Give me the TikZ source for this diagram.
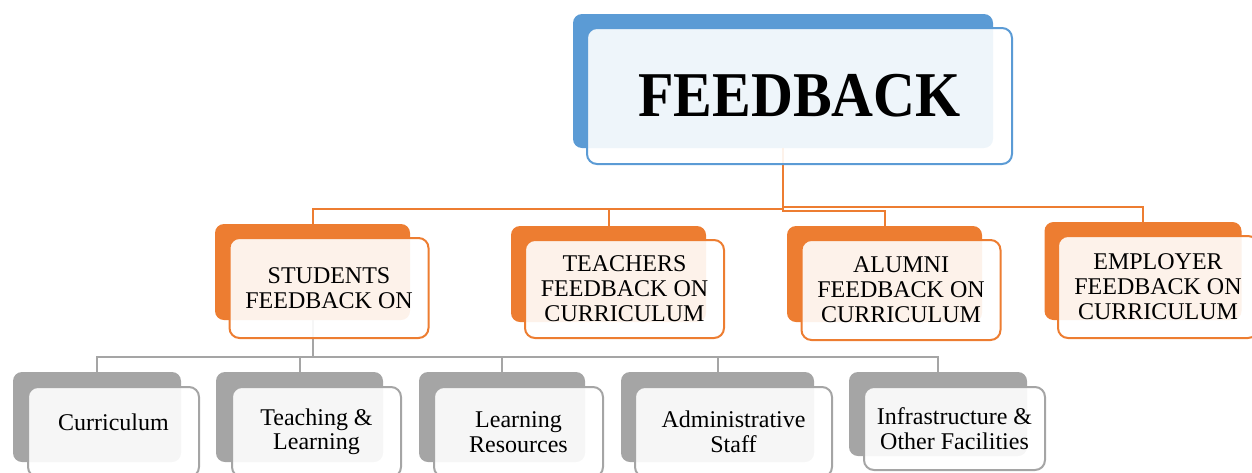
\documentclass[tikz,border=0pt]{standalone}
\usepackage{graphicx}
\usepackage{fontspec}
\setmainfont{Liberation Serif}
\definecolor{cblue}{HTML}{5B9BD5}
\definecolor{corange}{HTML}{ED7D31}
\definecolor{cgray}{HTML}{A5A5A5}
\tikzset{
  backbox/.style={rounded corners=9pt, draw=none, fill=#1, inner sep=0pt},
  frontbox/.style={rounded corners=10pt, draw=#1, line width=2pt, fill=white,
    fill opacity=0.9, text opacity=1, inner sep=0pt, align=center},
  ocon/.style={draw=corange, line width=2pt},
  gcon/.style={draw=cgray, line width=2pt},
  lvtwo/.style={font=\fontsize{24}{25}\selectfont},
  lvthree/.style={font=\fontsize{24}{24.5}\selectfont},
}
\begin{document}
\begin{tikzpicture}[x=1pt,y=-1pt]
\useasboundingbox (0,0) rectangle (1252,472);
% back boxes
\node[backbox=cblue, minimum width=420pt, minimum height=134pt] (fbb) at (783,81) {};
\node[backbox=corange, minimum width=195pt, minimum height=96pt] (sb) at (312.5,272) {};
\node[backbox=corange, minimum width=195pt, minimum height=96pt] (tb) at (608.5,274) {};
\node[backbox=corange, minimum width=195pt, minimum height=96pt] (ab) at (884.5,274) {};
\node[backbox=corange, minimum width=197pt, minimum height=98pt] (eb) at (1143,271) {};
\node[backbox=cgray, minimum width=168pt, minimum height=90pt] (cb) at (97,417) {};
\node[backbox=cgray, minimum width=167pt, minimum height=90pt] (tlb) at (299.5,417) {};
\node[backbox=cgray, minimum width=166pt, minimum height=90pt] (lrb) at (502,417) {};
\node[backbox=cgray, minimum width=193pt, minimum height=90pt] (asb) at (717.5,417) {};
\node[backbox=cgray, minimum width=178pt, minimum height=84pt] (ifb) at (938,414) {};
% connectors
\draw[ocon] (fbb.south) -- ++(0,61) -| (sb.north);
\draw[ocon] (fbb.south) -- ++(0,61) -| (tb.north);
\draw[ocon] (fbb.south) -- ++(0,63) -| (ab.north);
\draw[ocon] (fbb.south) -- ++(0,59) -| (eb.north);
\draw[gcon] (sb.south) -- ++(0,37) -| (cb.north);
\draw[gcon] (sb.south) -- ++(0,37) -| (tlb.north);
\draw[gcon] (sb.south) -- ++(0,37) -| (lrb.north);
\draw[gcon] (sb.south) -- ++(0,37) -| (asb.north);
\draw[gcon] (sb.south) -- ++(0,37) -| (ifb.north);
% front boxes
\node[frontbox=cblue, minimum width=425pt, minimum height=136pt,
  font=\fontsize{58}{60}\selectfont\bfseries] (fbf) at (799.5,96)
  {\scalebox{1}[1.1]{FEEDBACK}};
\node[frontbox=corange, lvtwo, minimum width=199pt, minimum height=100pt] (sf) at (329,288) {STUDENTS\\FEEDBACK ON};
\node[frontbox=corange, lvtwo, minimum width=199pt, minimum height=98pt] (tf) at (624.5,289) {TEACHERS\\FEEDBACK ON\\CURRICULUM};
\node[frontbox=corange, lvtwo, minimum width=199pt, minimum height=100pt] (af) at (901,290) {ALUMNI\\FEEDBACK ON\\CURRICULUM};
\node[frontbox=corange, lvtwo, minimum width=200pt, minimum height=102pt] (ef) at (1158,287) {EMPLOYER\\FEEDBACK ON\\CURRICULUM};
\node[frontbox=cgray, lvthree, minimum width=171pt, minimum height=90pt, text depth=20pt] (cf) at (113.5,432) {Curriculum};
\node[frontbox=cgray, lvthree, minimum width=169pt, minimum height=90pt] (tlf) at (316.5,432) {Teaching \&\\Learning};
\node[frontbox=cgray, lvthree, minimum width=169pt, minimum height=90pt] (lrf) at (518.5,432) {Learning\\Resources};
\node[frontbox=cgray, lvthree, minimum width=197pt, minimum height=90pt] (asf) at (733.5,432) {Administrative\\Staff};
\node[frontbox=cgray, lvthree, minimum width=181pt, minimum height=83pt] (iff) at (954.5,428.5) {Infrastructure \&\\Other Facilities};
\end{tikzpicture}
\end{document}
